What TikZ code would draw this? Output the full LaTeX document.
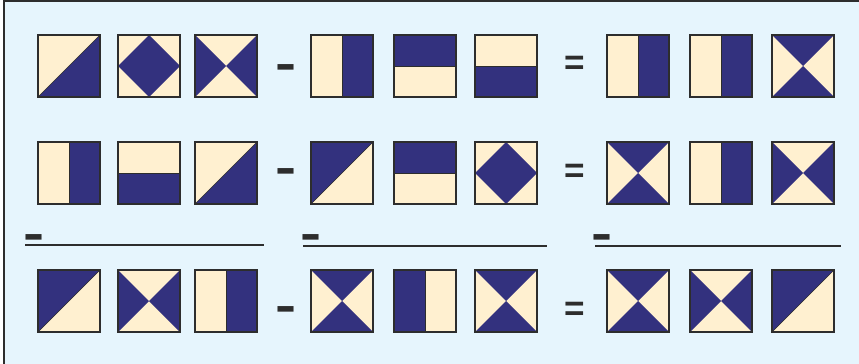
\documentclass[tikz,border=0pt]{standalone}
\usepackage{fontspec}
\usepackage{xcolor}
\usepackage{graphicx}
\usepackage{tikz}
\newfontfamily\signfont{Liberation Sans}
\definecolor{fond}{RGB}{230,245,253}
\definecolor{navy}{RGB}{51,49,126}
\definecolor{creme}{RGB}{255,240,208}
\definecolor{trait}{RGB}{45,45,45}

\tikzset{
  cadre/.style={draw=trait,line width=1pt},
  moins/.style={font=\signfont\bfseries\fontsize{40}{40}\selectfont,text=trait,inner sep=0pt,anchor=base},
  egal/.style={font=\signfont\bfseries\fontsize{30}{30}\selectfont,text=trait,inner sep=0pt,anchor=base},
  barre/.style={draw=trait,line width=1.6pt},
  % tiles, 62 px wide, y grows downwards
  vright/.pic={\fill[creme](0,0) rectangle (62,62);\fill[navy](31,0) rectangle (62,62);
    \draw[trait](31,0)--(31,62);\draw[cadre](0,0) rectangle (62,62);},
  vleft/.pic={\fill[creme](0,0) rectangle (62,62);\fill[navy](0,0) rectangle (31,62);
    \draw[trait](31,0)--(31,62);\draw[cadre](0,0) rectangle (62,62);},
  htop/.pic={\fill[creme](0,0) rectangle (62,62);\fill[navy](0,0) rectangle (62,31);
    \draw[trait](0,31)--(62,31);\draw[cadre](0,0) rectangle (62,62);},
  hbot/.pic={\fill[creme](0,0) rectangle (62,62);\fill[navy](0,31) rectangle (62,62);
    \draw[trait](0,31)--(62,31);\draw[cadre](0,0) rectangle (62,62);},
  dlow/.pic={\fill[creme](0,0) rectangle (62,62);\fill[navy](0,62)--(62,62)--(62,0)--cycle;
    \draw[trait](0,62)--(62,0);\draw[cadre](0,0) rectangle (62,62);},
  dup/.pic={\fill[creme](0,0) rectangle (62,62);\fill[navy](0,0)--(62,0)--(0,62)--cycle;
    \draw[trait](0,62)--(62,0);\draw[cadre](0,0) rectangle (62,62);},
  rhomb/.pic={\fill[creme](0,0) rectangle (62,62);\fill[navy](31,0)--(62,31)--(31,62)--(0,31)--cycle;
    \draw[cadre](0,0) rectangle (62,62);},
  sablier/.pic={\fill[creme](0,0) rectangle (62,62);
    \fill[navy](0,0)--(62,0)--(31,31)--cycle (0,62)--(62,62)--(31,31)--cycle;
    \draw[cadre](0,0) rectangle (62,62);},
  noeud/.pic={\fill[creme](0,0) rectangle (62,62);
    \fill[navy](0,0)--(0,62)--(31,31)--cycle (62,0)--(62,62)--(31,31)--cycle;
    \draw[cadre](0,0) rectangle (62,62);}
}
\newcommand{\largeminus}{\scalebox{1.35}[1]{-}}

\begin{document}
\begin{tikzpicture}[x=0.03cm,y=-0.03cm]
  \useasboundingbox (0,0) rectangle (859,364);
  \fill[fond](4,1) rectangle (859,364);
  \draw[trait,line width=1.2pt](4,364)--(4,1)--(859,1);

  % first row
  \foreach \t/\x in {dlow/38,rhomb/118,noeud/195,vright/311,htop/394,hbot/475,vright/607,vright/690,sablier/772}
    \pic at (\x,35) {\t};
  \node[moins] (m1) at (286.5,79) {\largeminus};
  \node[egal] (e1) at (574.5,74.7) {=};

  % second row
  \foreach \t/\x in {vright/38,hbot/118,dlow/195,dup/311,htop/394,rhomb/475,sablier/607,vright/690,noeud/772}
    \pic at (\x,142) {\t};
  \node[moins] (m2) at (286,183) {\largeminus};
  \node[egal] (e2) at (574.5,182.7) {=};

  % rules
  \node[moins] (r1) at (34,249) {\largeminus};
  \node[moins] (r2) at (311,249) {\largeminus};
  \node[moins] (r3) at (602,249) {\largeminus};
  \draw[barre](25,245)--(264,245);
  \draw[barre](303,246)--(547,246);
  \draw[barre](595,246)--(841,246);

  % third row
  \foreach \t/\x in {dup/38,noeud/118,vright/195,sablier/311,vleft/394,sablier/475,sablier/607,noeud/690,dup/772}
    \pic at (\x,270) {\t};
  \node[moins] (m3) at (286,321) {\largeminus};
  \node[egal] (e3) at (574.5,320.2) {=};
\end{tikzpicture}
\end{document}
